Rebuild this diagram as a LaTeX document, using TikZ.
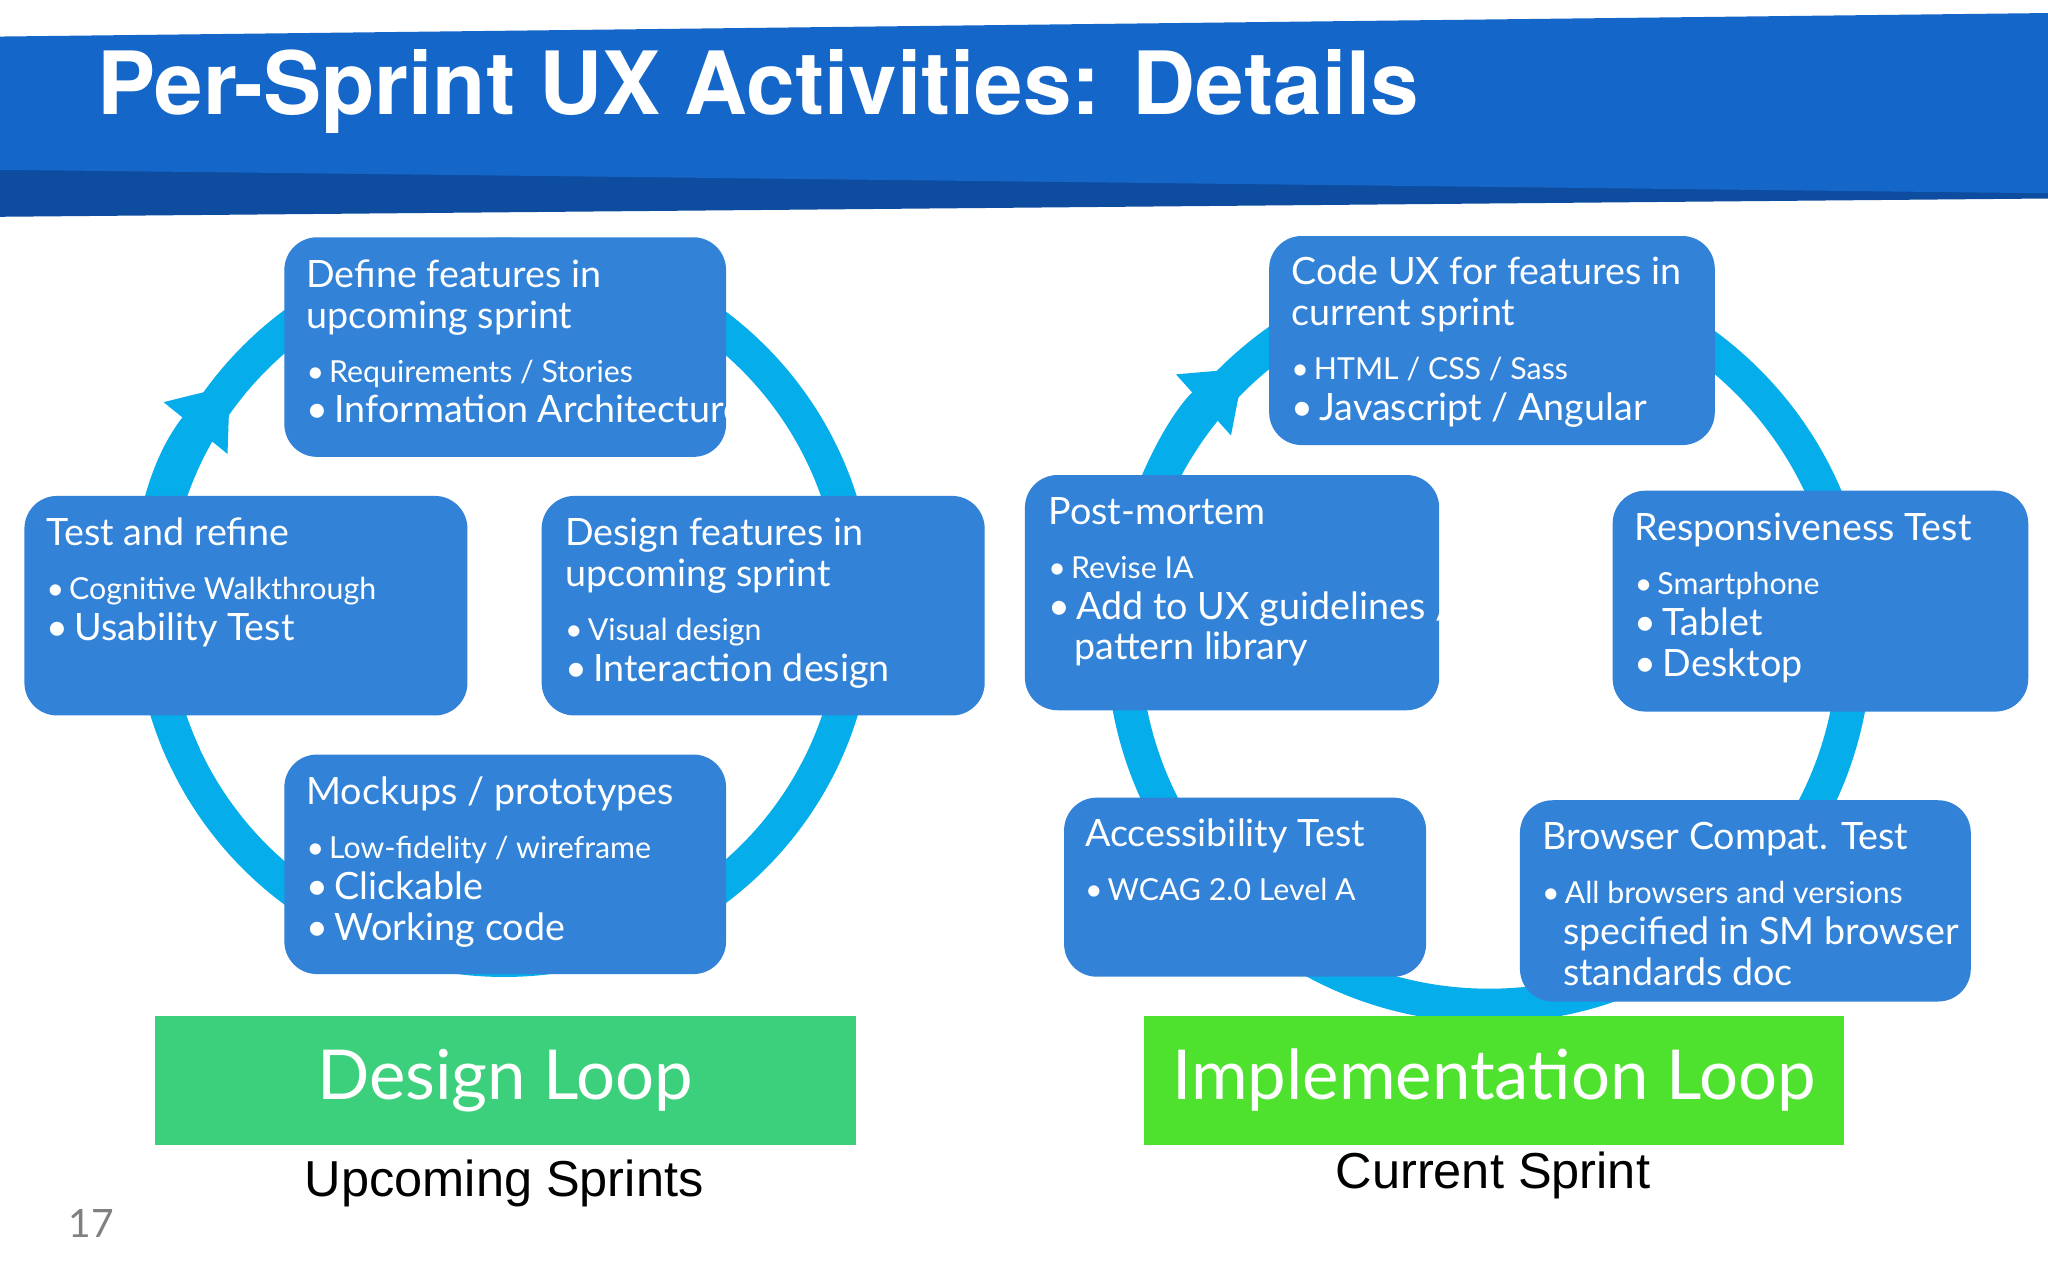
\documentclass[tikz,border=0pt]{standalone}
\usepackage{fontspec}
\setmainfont{Lato}
\newfontfamily\headfont{TeX Gyre Heros}
\newfontfamily\capfont{Liberation Sans}
\usetikzlibrary{arrows.meta}
\definecolor{banner}{HTML}{1467C9}
\definecolor{bannerdark}{HTML}{0D4C9E}
\definecolor{boxblue}{HTML}{3282D8}
\definecolor{loopcyan}{HTML}{05AEEA}
\definecolor{greenA}{HTML}{3CD07C}
\definecolor{greenB}{HTML}{4EE12E}
\tikzset{
  card/.style={rectangle, rounded corners=0.25cm, fill=boxblue, draw=none},
  cardtext/.style={anchor=north west, text=white, align=left, inner sep=0pt, font=\fontsize{8.2}{8.9}\selectfont},
  loop/.style={line width=0.26cm, draw=loopcyan},
  bar/.style={rectangle, anchor=north west, text=white, font=\fontsize{15}{18}\selectfont},
  caption/.style={font=\capfont\fontsize{11}{13}\selectfont}
}
\newcommand{\bl}{\\[0.1cm]\fontsize{6.6}{8.3}\selectfont}
\newcommand{\itm}{\textbullet\,}
\begin{document}
\begin{tikzpicture}[x=0.01cm,y=-0.01cm]
\useasboundingbox (0,0) rectangle (1568,980);
\fill[white] (0,0) rectangle (1568,980);
% banner
\fill[bannerdark] (0,128) -- (1568,140) -- (1568,152) -- (0,166) -- cycle;
\fill[banner] (0,28) -- (1568,10) -- (1568,148) -- (0,130) -- cycle;
\node[anchor=west, text=white, font=\headfont\bfseries\fontsize{19}{22}\selectfont] (title) at (62,70) {Per-Sprint UX Activities: Details};

% loops
\coordinate (cL) at (386,465);
\coordinate (cR) at (1140,490);
\draw[loop] (cL) circle[radius=270];
\draw[loop] (cR) circle[radius=280];
\draw[loop, -{Triangle[length=0.42cm,width=0.6cm]}] (cL) ++(-205:270) arc[start angle=-205, end angle=-141, radius=270];
\draw[loop, -{Triangle[length=0.42cm,width=0.6cm]}] (cR) ++(-170:280) arc[start angle=-170, end angle=-132, radius=280];

% design loop cards
\node[card, minimum width=3.38cm, minimum height=1.68cm, anchor=north west] (define) at (217,181) {};
\node[card, minimum width=3.39cm, minimum height=1.68cm, anchor=north west] (test) at (18,379) {};
\node[card, minimum width=3.39cm, minimum height=1.68cm, anchor=north west] (design) at (414,379) {};
\node[card, minimum width=3.38cm, minimum height=1.68cm, anchor=north west] (mock) at (217,577) {};
\node[cardtext] (defineT) at (234,198) {Define features in\\upcoming sprint\bl\itm Requirements / Stories\\\itm Information Architecture};
\node[cardtext] (testT) at (35,396) {Test and refine\bl\itm Cognitive Walkthrough\\\itm Usability Test};
\node[cardtext] (designT) at (432,396) {Design features in\\upcoming sprint\bl\itm Visual design\\\itm Interaction design};
\node[cardtext] (mockT) at (234,594) {Mockups / prototypes\bl\itm Low-fidelity / wireframe\\\itm Clickable\\\itm Working code};

% implementation loop cards
\node[card, minimum width=3.41cm, minimum height=1.6cm, anchor=north west] (code) at (971,180) {};
\node[card, minimum width=3.17cm, minimum height=1.8cm, anchor=north west] (post) at (784,363) {};
\node[card, minimum width=3.18cm, minimum height=1.69cm, anchor=north west] (resp) at (1234,375) {};
\node[card, minimum width=2.77cm, minimum height=1.37cm, anchor=north west] (access) at (814,610) {};
\node[card, minimum width=3.45cm, minimum height=1.54cm, anchor=north west] (browser) at (1163,612) {};
\node[cardtext] (codeT) at (988,196) {Code UX for features in\\current sprint\bl\itm HTML / CSS / Sass\\\itm Javascript / Angular};
\node[cardtext] (postT) at (802,380) {Post-mortem\bl\itm Revise IA\\\itm Add to UX guidelines /\\\hspace{0.2cm}pattern library};
\node[cardtext] (respT) at (1251,392) {Responsiveness Test\bl\itm Smartphone\\\itm Tablet\\\itm Desktop};
\node[cardtext] (accessT) at (830,626) {Accessibility Test\bl\itm WCAG 2.0 Level A};
\node[cardtext] (browserT) at (1180,629) {Browser Compat. Test\bl\itm All browsers and versions\\\hspace{0.16cm}specified in SM browser\\\hspace{0.16cm}standards doc};

% bars and captions
\node[bar, fill=greenA, minimum width=5.36cm, minimum height=0.99cm] (designbar) at (118,777) {Design Loop};
\node[bar, fill=greenB, minimum width=5.36cm, minimum height=0.99cm] (implbar) at (875,777) {Implementation Loop};
\node[caption] (upcoming) at (386,906) {Upcoming Sprints};
\node[caption] (current) at (1143,900) {Current Sprint};
\node[text=gray, font=\fontsize{8.5}{10}\selectfont] (page) at (70,937) {17};
\end{tikzpicture}
\end{document}
